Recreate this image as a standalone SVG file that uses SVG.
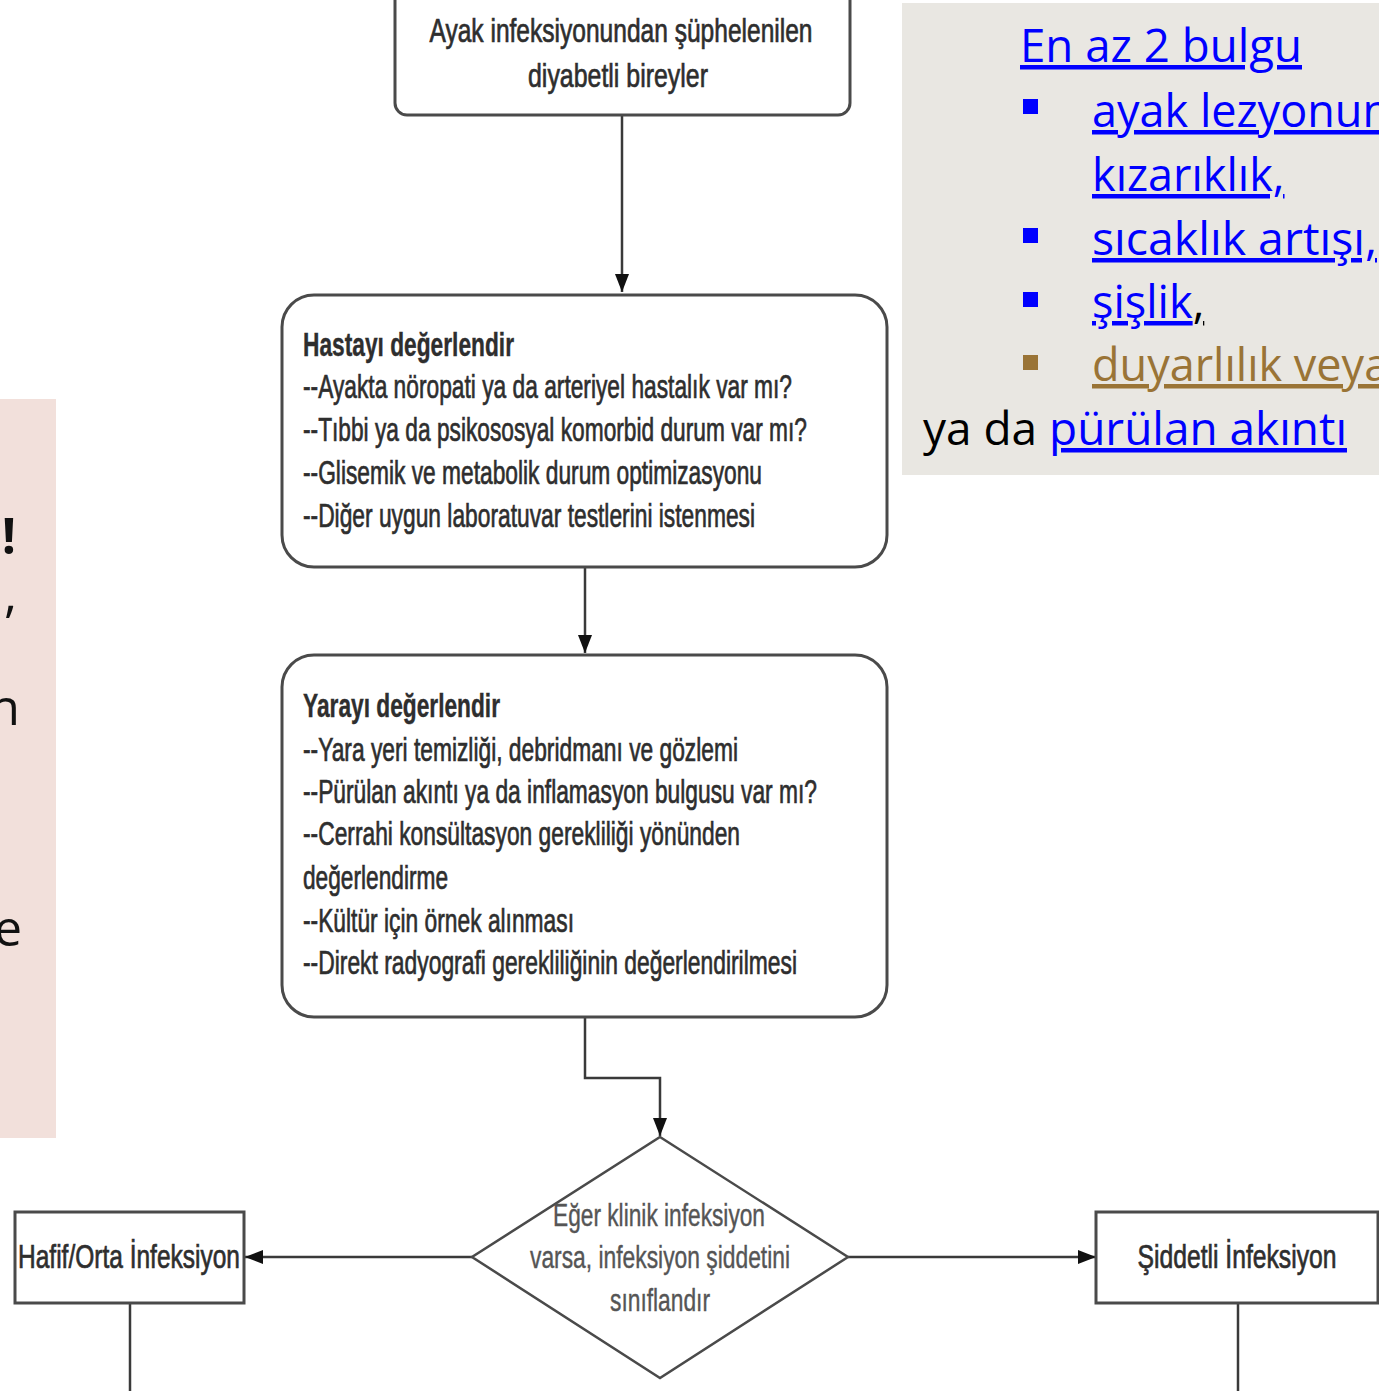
<svg xmlns="http://www.w3.org/2000/svg" width="1379" height="1391" viewBox="0 0 1379 1391">
<style>
.box{fill:#fff;stroke:#4a4a4a;stroke-width:3}
.ft{font-family:"Liberation Sans",Arial,sans-serif;font-size:33px;fill:#2e2e2e;stroke:#2e2e2e;stroke-width:0.7}
.fb{font-weight:bold;stroke-width:0.4}
.fd{fill:#555;stroke:#555;stroke-width:0.4;font-size:31px}
.conn{fill:none;stroke:#3a3a3a;stroke-width:2.5}
.pt{font-family:"Open Sans","Liberation Sans",sans-serif;font-size:45px}
.blue{fill:#0000ff}
.brown{fill:#9a7436}
.blk{fill:#000}
</style>
<defs>
<marker id="ah" markerUnits="userSpaceOnUse" markerWidth="20" markerHeight="14" refX="18" refY="7" orient="auto">
<path d="M0,0 L18,7 L0,14 z" fill="#111"/>
</marker>
<clipPath id="rclip"><rect x="902" y="3" width="477" height="472"/></clipPath>
<clipPath id="lclip"><rect x="0" y="399" width="56" height="739"/></clipPath>
</defs>
<rect width="1379" height="1391" fill="#fff"/>

<g id="left-panel">
<rect x="0" y="399" width="56" height="739" fill="#f2e0db"/>
<g clip-path="url(#lclip)" font-family="'Open Sans','Liberation Sans',sans-serif" font-size="50" fill="#111">
<text x="16" y="554" text-anchor="end" font-weight="bold">!</text>
<text x="17" y="612" text-anchor="end">u,</text>
<text x="20" y="725" text-anchor="end">n</text>
<text x="22" y="946" text-anchor="end">e</text>
</g>
</g>

<g id="right-panel">
<rect x="902" y="3" width="477" height="472" fill="#e9e7e2"/>
<g clip-path="url(#rclip)">
<text class="pt blue" x="1020" y="62" text-decoration="underline" textLength="282" lengthAdjust="spacingAndGlyphs">En az 2 bulgu</text>
<rect x="1023" y="99" width="15" height="15" fill="#0000ff"/>
<text class="pt blue" x="1092" y="127" text-decoration="underline">ayak lezyonunda</text>
<text class="pt blue" x="1092" y="191" text-decoration="underline">kızarıklık,</text>
<rect x="1023" y="228" width="15" height="15" fill="#0000ff"/>
<text class="pt blue" x="1092" y="255" text-decoration="underline" textLength="285" lengthAdjust="spacingAndGlyphs">sıcaklık artışı,</text>
<rect x="1023" y="292" width="15" height="15" fill="#0000ff"/>
<text class="pt" x="1092" y="318"><tspan class="blue" text-decoration="underline">şişlik</tspan><tspan class="blk" text-decoration="underline">,</tspan></text>
<rect x="1023" y="355" width="15" height="15" fill="#9a7436"/>
<text class="pt brown" x="1092" y="381" text-decoration="underline">duyarlılık veya</text>
<text class="pt" x="923" y="445" textLength="424" lengthAdjust="spacingAndGlyphs"><tspan class="blk">ya da </tspan><tspan class="blue" text-decoration="underline">pürülan akıntı</tspan></text>
</g>
</g>

<g id="connectors">
<path class="conn" d="M622,115 V292" marker-end="url(#ah)"/>
<path class="conn" d="M585,567 V653" marker-end="url(#ah)"/>
<path class="conn" d="M585,1017 V1078 H660 V1136" marker-end="url(#ah)"/>
<path class="conn" d="M472,1257 H245" marker-end="url(#ah)"/>
<path class="conn" d="M848,1257 H1096" marker-end="url(#ah)"/>
<path class="conn" d="M130,1303 V1391"/>
<path class="conn" d="M1238,1303 V1391"/>
</g>

<g id="node-start">
<rect class="box" x="395" y="-12" width="455" height="127" rx="12"/>
<text class="ft" x="621" y="42" text-anchor="middle" textLength="383" lengthAdjust="spacingAndGlyphs">Ayak infeksiyonundan şüphelenilen</text>
<text class="ft" x="618" y="87" text-anchor="middle" textLength="180" lengthAdjust="spacingAndGlyphs">diyabetli bireyler</text>
</g>

<g id="node-hasta">
<rect class="box" x="282" y="295" width="605" height="272" rx="32"/>
<text class="ft fb" x="303" y="356" textLength="211" lengthAdjust="spacingAndGlyphs">Hastayı değerlendir</text>
<text class="ft" x="303" y="398" textLength="489" lengthAdjust="spacingAndGlyphs">--Ayakta nöropati ya da arteriyel hastalık var mı?</text>
<text class="ft" x="303" y="441" textLength="504" lengthAdjust="spacingAndGlyphs">--Tıbbi ya da psikososyal komorbid durum var mı?</text>
<text class="ft" x="303" y="484" textLength="459" lengthAdjust="spacingAndGlyphs">--Glisemik ve metabolik durum optimizasyonu</text>
<text class="ft" x="303" y="527" textLength="452" lengthAdjust="spacingAndGlyphs">--Diğer uygun laboratuvar testlerini istenmesi</text>
</g>

<g id="node-yara">
<rect class="box" x="282" y="655" width="605" height="362" rx="32"/>
<text class="ft fb" x="303" y="717" textLength="197" lengthAdjust="spacingAndGlyphs">Yarayı değerlendir</text>
<text class="ft" x="303" y="761" textLength="435" lengthAdjust="spacingAndGlyphs">--Yara yeri temizliği, debridmanı ve gözlemi</text>
<text class="ft" x="303" y="803" textLength="514" lengthAdjust="spacingAndGlyphs">--Pürülan akıntı ya da inflamasyon bulgusu var mı?</text>
<text class="ft" x="303" y="845" textLength="437" lengthAdjust="spacingAndGlyphs">--Cerrahi konsültasyon gerekliliği yönünden</text>
<text class="ft" x="303" y="889" textLength="145" lengthAdjust="spacingAndGlyphs">değerlendirme</text>
<text class="ft" x="303" y="932" textLength="271" lengthAdjust="spacingAndGlyphs">--Kültür için örnek alınması</text>
<text class="ft" x="303" y="974" textLength="494" lengthAdjust="spacingAndGlyphs">--Direkt radyografi gerekliliğinin değerlendirilmesi</text>
</g>

<g id="node-decision">
<polygon class="box" points="660,1137 848,1257 660,1378 472,1257" style="stroke-width:2.5"/>
<text class="ft fd" x="659" y="1226" text-anchor="middle" textLength="212" lengthAdjust="spacingAndGlyphs">Eğer klinik infeksiyon</text>
<text class="ft fd" x="660" y="1268" text-anchor="middle" textLength="260" lengthAdjust="spacingAndGlyphs">varsa, infeksiyon şiddetini</text>
<text class="ft fd" x="660" y="1311" text-anchor="middle" textLength="100" lengthAdjust="spacingAndGlyphs">sınıflandır</text>
</g>

<g id="node-hafif">
<rect class="box" x="15" y="1212" width="229" height="91"/>
<text class="ft" x="129" y="1268" text-anchor="middle" textLength="222" lengthAdjust="spacingAndGlyphs">Hafif/Orta İnfeksiyon</text>
</g>

<g id="node-siddetli">
<rect class="box" x="1096" y="1212" width="282" height="91"/>
<text class="ft" x="1237" y="1268" text-anchor="middle" textLength="199" lengthAdjust="spacingAndGlyphs">Şiddetli İnfeksiyon</text>
</g>
</svg>
